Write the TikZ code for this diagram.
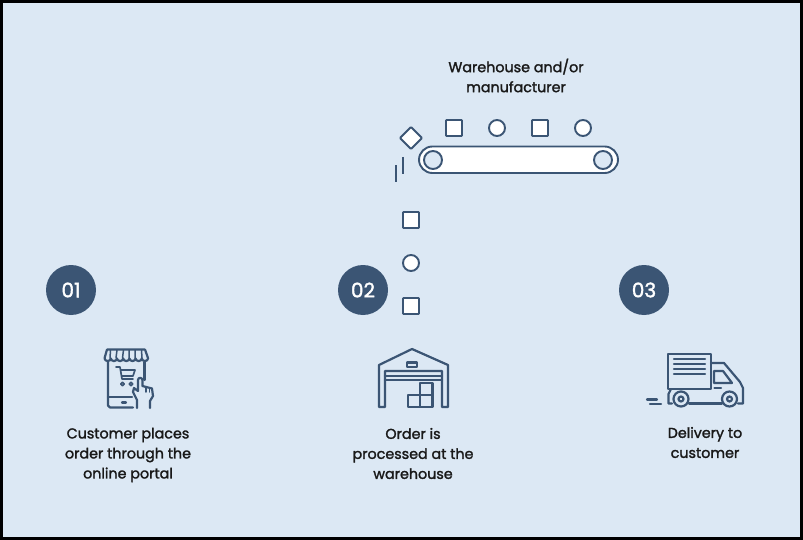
\documentclass[tikz,border=0pt]{standalone}
\usepackage{fontspec}
\setmainfont{Poppins}
\newfontfamily\labf[FakeBold=1.7]{Poppins}
\definecolor{bg}{HTML}{DCE8F4}
\definecolor{ink}{HTML}{3B5574}
\tikzset{
 lab/.style={font=\labf\fontsize{14.3pt}{20pt}\selectfont,text=black!90,inner sep=0,align=center},
 badge/.style={circle,fill=ink,minimum size=50pt,inner sep=0,text=white,font=\labf\fontsize{20pt}{22pt}\selectfont},
 item/.style={draw=ink,fill=white,line width=1.9pt},
 icon/.style={draw=ink,line width=2.2pt,line join=round,line cap=round},
}
\begin{document}
\begin{tikzpicture}[x=1pt,y=-1pt]
\useasboundingbox (0,0) rectangle (803,540);
\draw[fill=bg,draw=black,line width=3pt] (1.5,1.5) rectangle (801.5,538.5);
% conveyor
\draw[item,rounded corners=13.4pt] (419,146.5) rectangle (618,173);
\draw[item,fill=bg] (433,160) circle[radius=9];
\draw[item,fill=bg] (603,160) circle[radius=9];
\draw[item,rounded corners=0.8pt] (446,120) rectangle (462,136);
\draw[item] (497,128) circle[radius=8];
\draw[item,rounded corners=0.8pt] (532,120) rectangle (548,136);
\draw[item] (583,128) circle[radius=8];
\draw[item,rounded corners=0.8pt] (411,127) -- (422,138) -- (411,149) -- (400,138) -- cycle;
\draw[draw=ink,line width=1.7pt] (403,157) -- (403,174.5) (396,165.5) -- (396,182.5);
\draw[item,rounded corners=0.8pt] (403,212) rectangle (419,228);
\draw[item] (411,263) circle[radius=8];
\draw[item,rounded corners=0.8pt] (403,298) rectangle (419,314);
% labels
\node[lab] (wh) at (516,75.5) {Warehouse and/or\\manufacturer};
\node[lab] (l1) at (128,455) {Customer places\\order through the\\online portal};
\node[lab] (l2) at (413,453.5) {Order is\\processed at the\\warehouse};
\node[lab] (l3) at (705,442.5) {Delivery to\\customer};
\node[badge] (b1) at (71,290) {01};
\node[badge] (b2) at (363,290) {02};
\node[badge] (b3) at (644,290) {03};
% phone
\draw[icon] (108,362) -- (108,405.5) -- (110,407.5) -- (133,407.5);
\draw[icon] (144.5,362) -- (144.5,380);
\draw[icon] (108,397) -- (132,397);
\draw[icon] (122,402.5) -- (126,402.5);
\draw[icon,rounded corners=0.5pt] (107,349.5) -- (145,349.5) -- (148,358) arc[start angle=0,end angle=180,radius=3.1] arc[start angle=0,end angle=180,radius=3.1] arc[start angle=0,end angle=180,radius=3.1] arc[start angle=0,end angle=180,radius=3.1] arc[start angle=0,end angle=180,radius=3.1] arc[start angle=0,end angle=180,radius=3.1] arc[start angle=0,end angle=180,radius=3.1] -- cycle;
\draw[icon,line width=1.5pt] (110.5,350) -- (110,358) (117,350) -- (116,358) (123.5,350) -- (122.5,358) (129,350) -- (129,358) (135,350) -- (135,358) (141.5,350) -- (142,358);
\draw[icon,line width=1.7pt] (116,367) -- (120,367) -- (122,379) -- (133,379) (120.5,370) -- (135,370) -- (133,376) -- (121.5,376);
\draw[icon,line width=1.5pt] (122.5,384) circle[radius=1.8] (131,384) circle[radius=1.8];
\draw[icon,fill=bg] (137,408) -- (137,400) -- (133,392) -- (134,388) -- (138,391) -- (138,380) arc[start angle=180,end angle=360,radius=2.2] -- (142.4,386) -- (152,388.5) -- (153,396) -- (150,401) -- (150,408);
\draw[icon,line width=1.5pt] (146,387.5) -- (146,392) (149.5,388) -- (149.5,392);
% warehouse
\draw[icon] (379,407) -- (379,365) -- (412,349) -- (448,365) -- (448,407) -- (442,407) -- (442,371) -- (385,371) -- (385,407) -- cycle;
\draw[icon] (385,376) -- (442,376) (385,380) -- (442,380);
\draw[icon] (407,362.5) rectangle (417,367);
\draw[icon] (408,395) rectangle (420,407) (420,395) rectangle (432.5,407) (420,383) rectangle (432.5,395);
% truck
\draw[icon] (668,354) rectangle (711,389);
\draw[icon] (674,359) -- (705,359) (674,364) -- (705,364) (674,369) -- (705,369) (674,374) -- (705,374);
\draw[icon] (711,363) -- (724,363) -- (740,382) -- (743,388) -- (743,403.5) -- (738,403.5);
\draw[icon] (722,403.5) -- (689,403.5);
\draw[icon] (672,403.5) -- (668.5,403.5) -- (668.5,394) -- (671,389);
\draw[icon] (714,371) -- (723,371) -- (732,383) -- (714,383) -- cycle;
\draw[icon] (714.5,388) -- (721,388);
\draw[icon,fill=bg] (681,399) circle[radius=7.5] (681,399) circle[radius=2.5];
\draw[icon,fill=bg] (729.5,399) circle[radius=7.5] (729.5,399) circle[radius=2.5];
\draw[icon] (647,399.5) -- (657,399.5) (650,404) -- (661,404);
\end{tikzpicture}
\end{document}
